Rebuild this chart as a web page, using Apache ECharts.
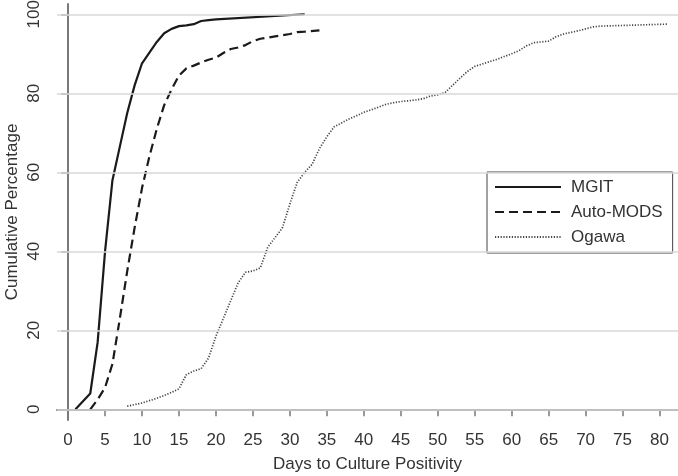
<!DOCTYPE html>
<html><head><meta charset="utf-8">
<script src="https://cdn.jsdelivr.net/npm/echarts@6/dist/echarts.min.js"></script>
<style>html,body{margin:0;padding:0;background:#fff}#c{width:678px;height:476px}</style>
</head><body><div id="c"></div>
<script>
const seriesNames = ['MGIT', 'Auto-MODS', 'Ogawa'];
const xTicks = [0,5,10,15,20,25,30,35,40,45,50,55,60,65,70,75,80];
const yTicks = [0,20,40,60,80,100];

const mgitDays = [1,3,4,5,6,7,8,9,10,11,12,13,14,15,16,17,18,19,20,32];
const mgitPct  = [0,4,17,40,58,66.5,75,82,87.6,90.3,93,95.2,96.3,97,97.2,97.5,98.3,98.5,98.7,100];

const modsDays = [3,4,5,6,7,8,9,10,11,12,13,14,15,16,17,18,19,20,21,22,23,24,25,26,28,30,31,32,34];
const modsPct  = [0,2.5,5.5,11.5,23,35,46,56,64,71,77,81,84.5,86.3,87,87.8,88.5,89,90.2,91.2,91.6,92.2,93.2,93.8,94.4,95,95.5,95.6,95.9];

const ogawaDays = [8,9,10,11,12,13,14,15,16,17,18,19,20,21,22,23,24,25,26,27,28,29,30,31,32,33,34,35,36,37,38,39,40,41,42,43,44,45,46,47,48,49,50,51,52,53,54,55,56,57,58,59,60,61,62,63,64,65,66,67,68,69,70,71,72,81];
const ogawaPct  = [0.8,1.2,1.6,2.2,2.8,3.5,4.3,5.2,8.8,9.7,10.3,13,18.5,23,27.5,32,34.7,35,35.8,41,43.5,46,52,57.5,60,62,66,69,71.5,72.5,73.5,74.3,75.2,75.8,76.5,77.2,77.6,77.9,78.1,78.3,78.6,79.3,79.6,80.2,82,83.8,85.5,86.8,87.4,88,88.6,89.3,90,90.8,92,92.8,93,93.2,94.3,95,95.4,95.8,96.3,96.8,97,97.5];

const xTitle = 'Days to Culture Positivity';
const yTitle = 'Cumulative Percentage';

const zip = (a, b) => a.map((v, i) => [v, b[i]]);
const FONT = 'Liberation Sans, Arial, Helvetica, sans-serif';
const AX = '#7a7a7a', TXT = '#333333';

const chart = echarts.init(document.getElementById('c'), null, {renderer: 'canvas'});
chart.setOption({
  animation: false,
  backgroundColor: '#ffffff',
  textStyle: {fontFamily: FONT},
  grid: {left: 57, top: 4, width: 621, height: 416, containLabel: false, outerBoundsMode: 'none'},
  xAxis: {
    type: 'value', min: -1.5, max: 82.5,
    name: xTitle, nameLocation: 'middle', nameGap: 36,
    nameTextStyle: {fontSize: 17, color: TXT, fontFamily: FONT},
    axisLine: {show: true, lineStyle: {color: AX, width: 2}},
    axisTick: {show: true, length: 7, lineStyle: {color: AX, width: 1.5}, customValues: xTicks},
    axisLabel: {fontSize: 17, color: TXT, margin: 12, fontFamily: FONT, customValues: xTicks},
    splitLine: {show: false}
  },
  yAxis: {
    type: 'value', min: -2.7, max: 102.6,
    name: yTitle, nameLocation: 'middle', nameGap: 36, nameRotate: 90, nameMoveOverlap: false,
    nameTextStyle: {fontSize: 17, color: TXT, fontFamily: FONT},
    axisLine: {show: true, lineStyle: {color: AX, width: 2}},
    axisTick: {show: true, length: 7, lineStyle: {color: AX, width: 1.5}, customValues: yTicks},
    axisLabel: {fontSize: 17, color: TXT, margin: 14, rotate: 90, fontFamily: FONT, customValues: yTicks},
    splitLine: {show: false}
  },
  legend: {
    orient: 'vertical', left: 487, top: 172,
    data: seriesNames,
    backgroundColor: '#ffffff', borderColor: '#444444', borderWidth: 1,
    padding: [5, 10, 6, 7],
    itemWidth: 66, itemHeight: 20, itemGap: 5,
    itemStyle: {opacity: 0},
    textStyle: {fontSize: 17, color: TXT, fontFamily: FONT, padding: [0, 0, 0, 5], lineHeight: 20, height: 20}
  },
  series: [
    {
      name: '_grid', type: 'line', data: [[0, 0]], showSymbol: false, silent: true, z: 1,
      lineStyle: {opacity: 0},
      markLine: {
        silent: true, symbol: 'none', label: {show: false},
        lineStyle: {color: '#d9d9d9', width: 1.5, type: 'solid'},
        data: yTicks.map(v => ({yAxis: v}))
      }
    },
    {
      name: seriesNames[0], type: 'line', data: zip(mgitDays, mgitPct), symbol: 'none', z: 3,
      lineStyle: {color: '#1a1a1a', width: 2.2, type: 'solid'}, itemStyle: {color: '#1a1a1a'}
    },
    {
      name: seriesNames[1], type: 'line', data: zip(modsDays, modsPct), symbol: 'none', z: 3,
      lineStyle: {color: '#1a1a1a', width: 2.2, type: [9, 5]}, itemStyle: {color: '#1a1a1a'}
    },
    {
      name: seriesNames[2], type: 'line', data: zip(ogawaDays, ogawaPct), symbol: 'none', z: 3,
      lineStyle: {color: '#444444', width: 1.7, type: [1.2, 1.6]}, itemStyle: {color: '#444444'}
    }
  ]
});
</script></body></html>
